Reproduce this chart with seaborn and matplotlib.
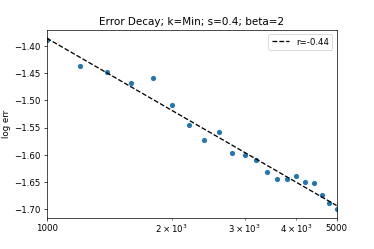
import numpy as np
import seaborn as sns
import matplotlib.pyplot as plt

n_samples = [1000, 1200, 1400, 1600, 1800, 2000, 2200, 2400, 2600, 2800, 3000,
             3200, 3400, 3600, 3800, 4000, 4200, 4400, 4600, 4800, 5000]
log_err = [-1.389, -1.437, -1.448, -1.468, -1.459, -1.509, -1.546, -1.573, -1.559,
           -1.596, -1.600, -1.609, -1.631, -1.645, -1.645, -1.639, -1.650, -1.652,
           -1.674, -1.688, -1.700]
fit_label = "r=-0.44"

# linear fit of log err against log10(n)
slope, intercept = np.polyfit(np.log10(n_samples), log_err, 1)
fit_vals = intercept + slope * np.log10(n_samples)

fig, ax = plt.subplots(figsize=(6, 4), dpi=374 / 6)
fig.subplots_adjust(left=0.125, right=0.9, bottom=0.125, top=0.88)

sns.scatterplot(x=n_samples, y=log_err, ax=ax, s=36, color="C0", linewidth=0)
sns.lineplot(x=n_samples, y=fit_vals, ax=ax, color="black", linestyle="--",
             label=fit_label)

ax.set_xscale("log")
ax.set_xlim(1000, 5000)
ax.set_xticks([1000, 5000], labels=["1000", "5000"])
ax.set_ylabel("log err")
ax.set_title("Error Decay; k=Min; s=0.4; beta=2")
ax.legend(loc="upper right")

fig.savefig("out.png", dpi=374 / 6)
